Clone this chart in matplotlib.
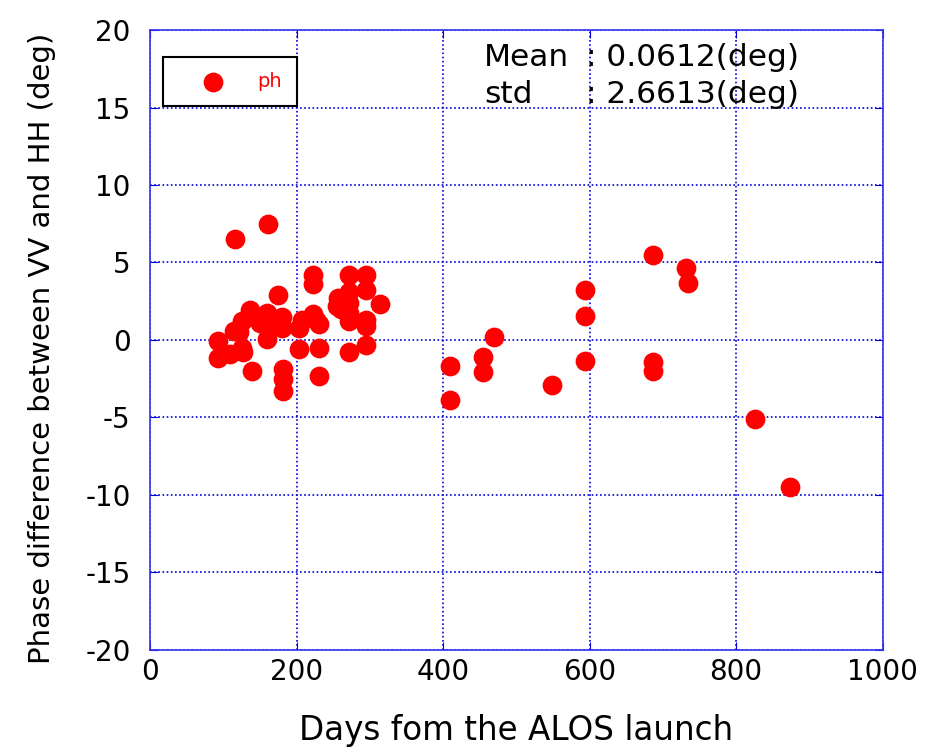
import matplotlib.pyplot as plt

plt.rcParams['font.family'] = ['DejaVu Sans']
plt.rcParams['axes.unicode_minus'] = False

# days since launch and phase difference (deg)
days = [116, 161, 223, 223, 271, 295, 295, 175, 257, 271, 314, 255, 271, 295,
        271, 295, 295, 271, 230, 230, 223, 230, 207, 203, 203, 182, 182, 182,
        180, 180, 159, 159, 162, 136, 125, 122, 114, 125, 127, 93, 93, 109,
        139, 150, 171, 227, 271, 260,
        410, 410, 454, 454, 469, 549, 594, 594, 594, 686, 686, 686, 732, 734,
        826, 874]
phase = [6.5, 7.5, 4.2, 3.6, 4.2, 4.2, 3.2, 2.9, 2.7, 2.4, 2.3, 2.2, 1.75, 1.3,
         1.2, 0.9, -0.3, -0.8, -0.5, -2.3, 1.65, 1.0, 1.3, 0.8, -0.6, -1.9, -2.5, -3.3,
         0.8, 1.5, 1.75, 0.05, 0.7, 1.95, 1.2, 0.5, 0.6, -0.5, -0.8, -0.05, -1.15, -0.9,
         -2.0, 1.1, 1.3, 1.3, 3.1, 2.0,
         -1.7, -3.9, -1.1, -2.1, 0.2, -2.9, 3.25, 1.55, -1.35, 5.45, -1.45, -2.0, 4.65, 3.7,
         -5.1, -9.5]

fig = plt.figure(figsize=(9.44, 7.52), dpi=100)
ax = fig.add_axes([0.159, 0.136, 0.776, 0.824])

ax.scatter(days, phase, s=175, color='#ff0000', zorder=3, label='ph')

ax.set_xlim(0, 1000)
ax.set_ylim(-20, 20)
ax.set_xticks(range(0, 1001, 200))
ax.set_yticks(range(-20, 21, 5))
ax.grid(True, color='#0000dd', linestyle=(0, (1, 1.5)), linewidth=1.2)
for s in ax.spines.values():
    s.set_color('#3333ee')
    s.set_linewidth(1.2)
ax.tick_params(direction='in', length=6, color='#0000dd', labelsize=20,
               top=True, right=True)
ax.tick_params(axis='y', pad=14)
ax.tick_params(axis='x', pad=6)

ax.set_xlabel('Days fom the ALOS launch', fontsize=23.5)
ax.xaxis.set_label_coords(0.5, -0.103)
ax.set_ylabel('Phase difference between VV and HH (deg)', fontsize=21)
ax.yaxis.set_label_coords(-0.128, 0.486)

leg = ax.legend(loc='upper left', bbox_to_anchor=(0.0177, 0.956), fontsize=14,
                labelcolor='#ff0000', fancybox=False, framealpha=1,
                edgecolor='black', borderpad=0.75, handlelength=3.6,
                handletextpad=0.5, borderaxespad=0, scatterpoints=1)
leg.get_frame().set_linewidth(1.5)

ax.text(0.456, 0.9423, 'Mean', transform=ax.transAxes, fontsize=22.5, va='baseline')
ax.text(0.595, 0.9423, ': 0.0612(deg)', transform=ax.transAxes, fontsize=22.5, va='baseline')
ax.text(0.456, 0.882, 'std', transform=ax.transAxes, fontsize=22.5, va='baseline')
ax.text(0.595, 0.882, ': 2.6613(deg)', transform=ax.transAxes, fontsize=22.5, va='baseline')

fig.savefig('out.png', dpi=100)
